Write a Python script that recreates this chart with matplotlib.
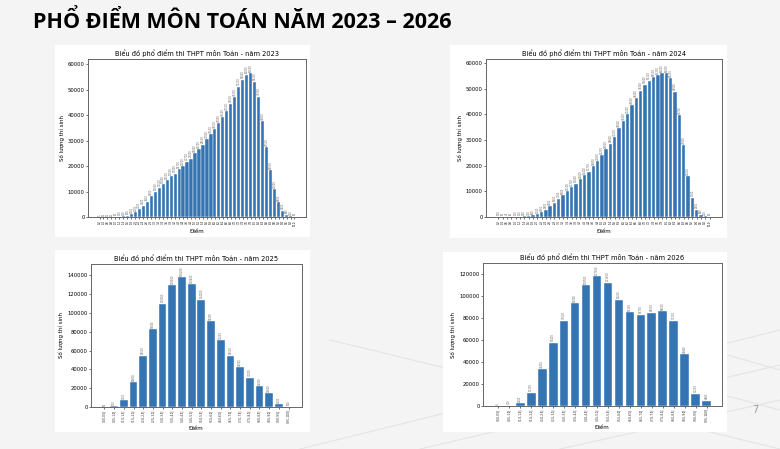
import matplotlib.pyplot as plt
from matplotlib.patches import Rectangle
from matplotlib.lines import Line2D

# score categories (0.2 step for 2023/2024, half-point bins for 2025/2026)
scores_02 = [f"{0.2 * i:.1f}" for i in range(1, 51)]
bins_05 = ["(0.0, 0.5]", "(0.5, 1.0]", "(1.0, 1.5]", "(1.5, 2.0]", "(2.0, 2.5]",
           "(2.5, 3.0]", "(3.0, 3.5]", "(3.5, 4.0]", "(4.0, 4.5]", "(4.5, 5.0]",
           "(5.0, 5.5]", "(5.5, 6.0]", "(6.0, 6.5]", "(6.5, 7.0]", "(7.0, 7.5]",
           "(7.5, 8.0]", "(8.0, 8.5]", "(8.5, 9.0]", "(9.0, 9.5]", "(9.5, 10.0]"]

counts_2023 = [5, 10, 12, 20, 50, 100, 200, 500, 1000, 2000, 3000, 4500, 6000, 8200,
               10000, 11500, 13000, 14500, 16000, 17000, 18700, 20000, 21700, 23000,
               25000, 26700, 28500, 30500, 32500, 34500, 37000, 39200, 41500, 44500,
               47200, 51200, 54000, 56000, 56500, 53200, 47300, 37800, 27500, 18500,
               11000, 5800, 2500, 900, 200, 50]
counts_2024 = [100, 50, 45, 60, 100, 150, 250, 400, 600, 1100, 1900, 2900, 4200, 5600,
               7100, 8500, 10100, 11700, 13000, 14800, 16400, 17700, 19800, 21800,
               24200, 26500, 28600, 31200, 34600, 37400, 40200, 43600, 46400, 49300,
               51600, 53100, 54500, 55300, 56000, 56000, 54200, 48900, 39700, 27900,
               16000, 7500, 2900, 900, 200, 50]
counts_2025 = [50, 700, 7000, 26600, 54500, 83000, 110000, 129300, 138200, 130400,
               114000, 91200, 71250, 54500, 42000, 31000, 22000, 14600, 2700, 500]
counts_2026 = [4, 300, 2400, 12150, 33400, 57400, 77500, 93300, 109700, 117900,
               111800, 96350, 85100, 82700, 84500, 86000, 77200, 46800, 11250, 4860]

years = ["2023", "2024", "2025", "2026"]
W, H = 780, 449
BAR = "#3574b2"


def fig_box(x0, y0, x1, y1):
    # pixel box (top-left origin) -> figure fraction
    return [x0 / W, 1 - y1 / H, (x1 - x0) / W, (y1 - y0) / H]


fig = plt.figure(figsize=(W / 100, H / 100), dpi=100, facecolor="#f4f4f4")

# faint perspective grid in the slide background
for (xa, ya, xb, yb) in [(300, 449, 780, 330), (420, 449, 780, 365), (560, 449, 780, 400),
                         (330, 340, 780, 449), (480, 330, 780, 410), (640, 330, 780, 370)]:
    fig.add_artist(Line2D([xa / W, xb / W], [1 - ya / H, 1 - yb / H],
                          color="#e4e4e4", lw=0.8, zorder=-3))

fig.text(33 / W, 1 - 22 / H, "PHỔ ĐIỂM MÔN TOÁN NĂM 2023 – 2026", fontsize=15.5,
         fontweight="bold", family="Open Sans", va="center", ha="left")
fig.text(752 / W, 1 - 410 / H, "7", fontsize=7, color="#999999", va="center")

panels = [(55, 45, 310, 237), (450, 45, 727, 238), (55, 250, 310, 432), (443, 252, 727, 432)]
axes_px = [(88, 59, 306, 217), (486, 59, 722, 217), (91, 264, 302, 407), (483, 263, 722, 406)]
data = [(scores_02, counts_2023), (scores_02, counts_2024),
        (bins_05, counts_2025), (bins_05, counts_2026)]

for year, pbox, abox, (cats, vals) in zip(years, panels, axes_px, data):
    fig.add_artist(Rectangle((pbox[0] / W, 1 - pbox[3] / H), (pbox[2] - pbox[0]) / W,
                             (pbox[3] - pbox[1]) / H, transform=fig.transFigure,
                             facecolor="white", edgecolor="none", zorder=-2))
    ax = fig.add_axes(fig_box(*abox))
    bars = ax.bar(cats, vals, color=BAR, edgecolor="white", linewidth=0.3, width=0.8)
    ax.bar_label(bars, labels=[str(v) for v in vals], rotation=90, fontsize=1.8,
                 padding=1, color="#666666")
    ax.set_ylim(0, max(vals) * 1.1)
    ax.set_title(f"Biểu đồ phổ điểm thi THPT môn Toán - năm {year}", fontsize=4.8, pad=2)
    ax.set_xlabel("Điểm", fontsize=4, labelpad=2)
    ax.set_ylabel("Số lượng thí sinh", fontsize=4, labelpad=2)
    ax.tick_params(axis="y", labelsize=3.8, length=1.5, width=0.4, pad=1)
    ax.tick_params(axis="x", labelsize=1.8, length=1.5, width=0.4, pad=1, labelrotation=90)
    for s in ax.spines.values():
        s.set_color("#666666")
        s.set_linewidth(0.7)

fig.savefig("out.png", dpi=100, facecolor=fig.get_facecolor())
